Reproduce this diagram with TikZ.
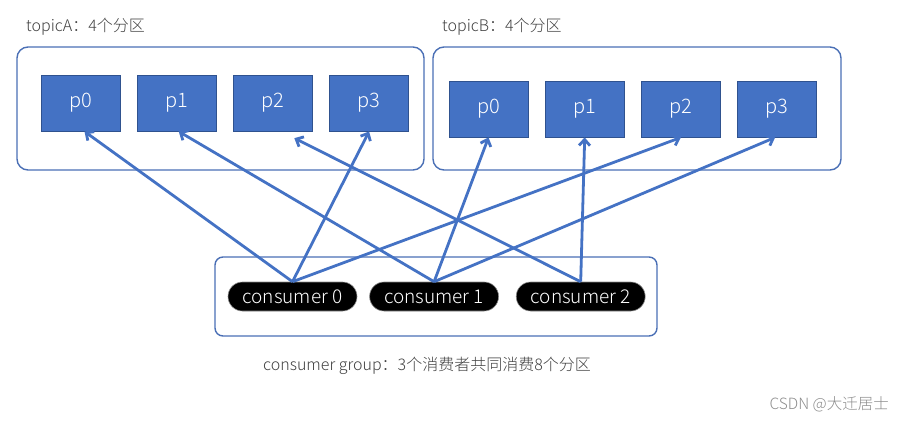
\documentclass[tikz,border=0pt]{standalone}
\usepackage{fontspec}
\setmainfont{Noto Sans CJK SC}[UprightFont=* Light]
\usepackage{xcolor}
\definecolor{colorPart}{HTML}{4472C4}
\definecolor{colorPartBorder}{HTML}{2F528F}
\definecolor{colorFrame}{HTML}{4A6FB5}
\colorlet{colorLink}{colorPart}
\definecolor{colorLabel}{HTML}{404040}
\definecolor{colorWmark}{HTML}{8C8C8C}
\usetikzlibrary{arrows.meta, positioning}
\tikzset{
  topic/.style={draw=colorFrame, line width=1.4pt, rounded corners=11pt},
  part/.style={draw=colorPartBorder, line width=0.9pt, fill=colorPart, text=white, minimum width=79pt, minimum height=56pt, font=\fontsize{20}{24}\selectfont},
  consumer/.style={draw=black!45, line width=0.6pt, fill=black, text=white, rounded corners=14.5pt, minimum width=129pt, minimum height=29pt, inner sep=0pt, font=\fontsize{19}{22}\selectfont},
  lbl/.style={text=colorLabel, inner sep=0pt, font=\fontsize{16}{19}\selectfont},
  wmark/.style={text=colorWmark, inner sep=0pt, font=\fontsize{15.5}{18}\selectfont},
  link/.style={->, draw=colorLink, line width=2.8pt}
}

\begin{document}
\begin{tikzpicture}[x=1pt, y=-1pt, >={Straight Barb[length=6pt,width=11pt]}, node distance=16.3pt]
\useasboundingbox (0,0) rectangle (905,421);
% topic frames
\node[topic, minimum width=407pt, minimum height=123pt] (tA) at (220.5,108.5) {};
\node[topic, minimum width=408pt, minimum height=123pt] (tB) at (637,108.5) {};
\node[lbl, anchor=west] (lA) at (26,27) {topicA：4个分区};
\node[lbl, anchor=west] (lB) at (442,27) {topicB：4个分区};
% partitions of topicA
\node[part] (a0) at (80.5,103) {p0};
\node[part, right=of a0] (a1) {p1};
\node[part, right=of a1] (a2) {p2};
\node[part, right=of a2] (a3) {p3};
% partitions of topicB
\node[part] (b0) at (488.5,109) {p0};
\node[part, right=of b0] (b1) {p1};
\node[part, right=of b1] (b2) {p2};
\node[part, right=of b2] (b3) {p3};
% consumer group
\node[topic, minimum width=442pt, minimum height=79pt, rounded corners=8pt] (cg) at (436,296.5) {};
\node[consumer] (c0) at (292.5,296.5) {consumer 0};
\node[consumer, right=12pt of c0] (c1) {consumer 1};
\node[consumer, right=17pt of c1] (c2) {consumer 2};
\node[lbl] (lcg) at (427,366) {consumer group：3个消费者共同消费8个分区};
% assignments
\draw[link] (c0.north) -- ([xshift=4pt]a0.south);
\draw[link] (c0.north) -- (a3.south);
\draw[link] (c0.north) -- (b2.south);
\draw[link] (c1.north) -- ([xshift=2pt]a1.south);
\draw[link] (c1.north) -- (b0.south);
\draw[link] (c1.north) -- ([xshift=-2pt]b3.south);
\draw[link, shorten >=15pt] (c2.north) -- ([xshift=8pt]a2.south);
\draw[link] (c2.north) -- (b1.south);
\node[wmark, anchor=east] (csdn) at (889,404) {CSDN @大迁居士};
\end{tikzpicture}
\end{document}
